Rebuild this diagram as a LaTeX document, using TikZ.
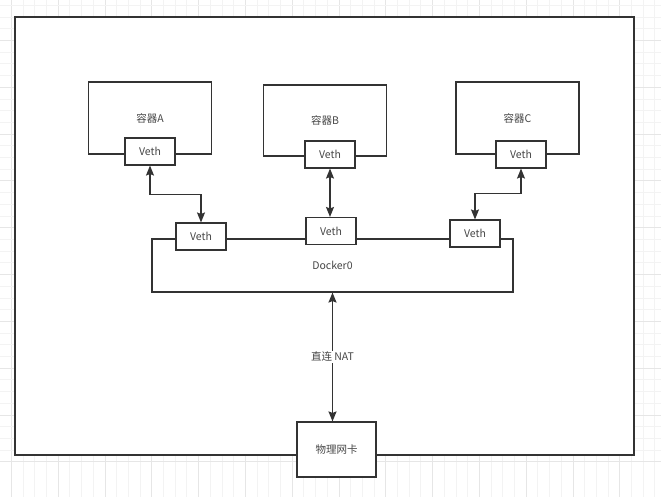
\documentclass[tikz,border=0pt]{standalone}
\usepackage{fontspec}
\setmainfont{Noto Sans CJK SC}
\usetikzlibrary{arrows.meta}
\definecolor{ink}{RGB}{51,51,51}
\definecolor{txt}{RGB}{70,70,70}
\definecolor{gridminor}{RGB}{243,243,243}
\definecolor{gridmajor}{RGB}{230,230,230}
\tikzset{
  >={Stealth[length=10pt,width=8pt,inset=1.5pt]},
  frame/.style={draw=ink,line width=1.6pt,fill=white,minimum width=619pt,minimum height=438pt},
  box/.style={draw=ink,line width=1.1pt,fill=white,inner sep=0pt,
    font=\fontsize{10.5}{12}\selectfont,text=txt},
  veth/.style={box,minimum width=50pt,minimum height=27pt},
  ctr/.style={box,minimum width=123pt,minimum height=72pt},
  flow/.style={<->,line width=1.2pt,draw=ink},
}

\begin{document}
\begin{tikzpicture}[x=1pt,y=-1pt]
  \useasboundingbox (0,0) rectangle (661,497);
  % background grid
  \foreach \i in {0,...,56} {
    \pgfmathsetmacro{\gx}{11.3+11.7*\i}
    \pgfmathtruncatemacro{\gm}{mod(\i,4)}
    \ifnum\gm=0 \draw[gridmajor,line width=0.8pt] (\gx,0) -- (\gx,497);
    \else \draw[gridminor,line width=0.8pt] (\gx,0) -- (\gx,497); \fi
  }
  \foreach \j in {0,...,42} {
    \pgfmathsetmacro{\gy}{461.7-11.7*\j}
    \pgfmathtruncatemacro{\gm}{mod(\j,4)}
    \ifnum\gm=0 \draw[gridmajor,line width=0.8pt] (0,\gy) -- (661,\gy);
    \else \draw[gridminor,line width=0.8pt] (0,\gy) -- (661,\gy); \fi
  }
  \node[frame] (host) at (324.5,236) {};
  % containers
  \node[ctr] (ctrA) at (150,118) {容器A};
  \node[ctr,minimum height=71pt] (ctrB) at (325,120.5) {容器B};
  \node[ctr] (ctrC) at (517.5,118) {容器C};
  \node[veth] (vethA) at (150,151.5) {Veth};
  \node[veth] (vethB) at (330,154.5) {Veth};
  \node[veth] (vethC) at (521,154.5) {Veth};
  % bridge
  \node[box,minimum width=361pt,minimum height=53pt] (docker) at (332.5,265.5) {Docker0};
  \node[veth] (dA) at (201,236.5) {Veth};
  \node[veth] (dB) at (331,231) {Veth};
  \node[veth] (dC) at (475,233.5) {Veth};
  \node[box,minimum width=79pt,minimum height=55pt] (nic) at (336.5,449.5) {物理网卡};
  \draw[flow] (vethA.south) -- ++(0,29) -| (dA.north);
  \draw[flow] (vethB.south) -- (vethB.south |- dB.north);
  \draw[flow] (vethC.south) -- ++(0,25) -| (dC.north);
  \draw[flow,line width=1.6pt] (docker.south) -- (docker.south |- nic.north)
    node[midway,fill=white,inner sep=1.5pt,font=\fontsize{10.5}{12}\selectfont,text=txt] (nat) {直连 NAT};
\end{tikzpicture}
\end{document}
